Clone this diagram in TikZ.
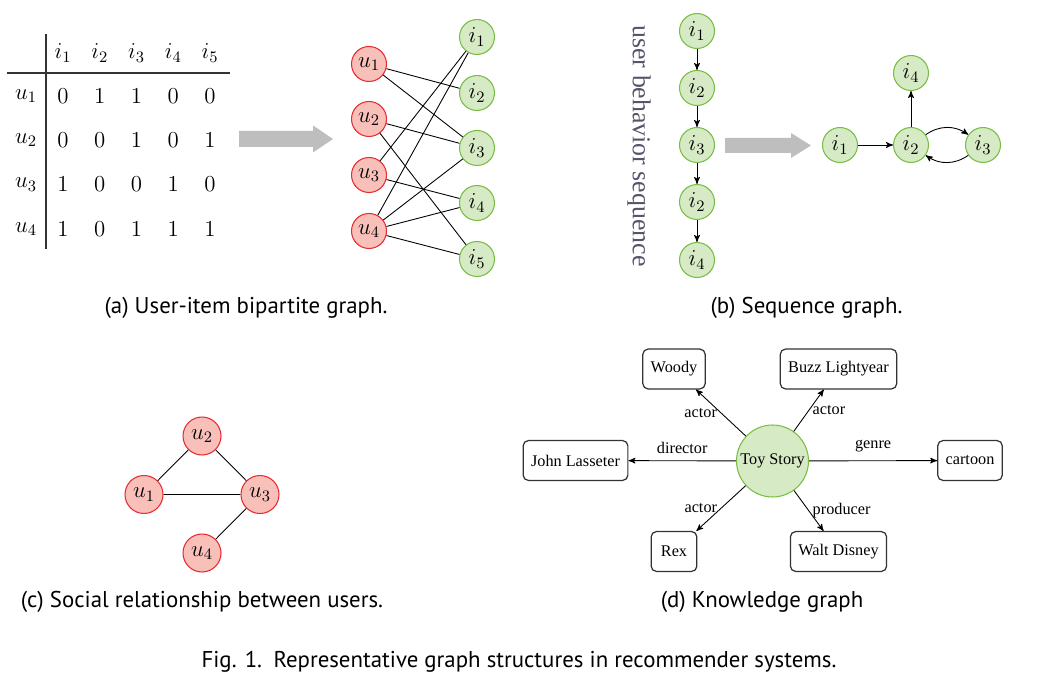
\RequirePackage{fix-cm}
\documentclass[tikz,border=0pt]{standalone}
\usepackage{fontspec}
\newfontfamily\capfont{PT Sans}
\newfontfamily\kgfont{Liberation Serif}
\usetikzlibrary{calc}
\usetikzlibrary{arrows}

\definecolor{userfill}{RGB}{249,192,186}
\definecolor{userdraw}{RGB}{232,42,50}
\definecolor{itemfill}{RGB}{214,234,197}
\definecolor{itemdraw}{RGB}{120,190,68}
\definecolor{seqgray}{RGB}{84,84,106}
\definecolor{bigarrow}{RGB}{190,190,190}

\begin{document}
\begin{tikzpicture} [x=0.02cm, y=-0.02cm, >=stealth',
  user/.style={circle, draw=userdraw, fill=userfill, line width=0.6pt, minimum size=0.7cm, inner sep=0, font=\fontsize{13}{15}\selectfont},
  item/.style={circle, draw=itemdraw, fill=itemfill, line width=0.6pt, minimum size=0.7cm, inner sep=0, font=\fontsize{13}{15}\selectfont},
  entity/.style={draw=black!80, line width=0.7pt, rounded corners=3pt, minimum width=26pt, minimum height=22.7pt, inner xsep=4.5pt, font=\kgfont\fontsize{9.25}{11}\selectfont},
  rel/.style={font=\kgfont\fontsize{9.25}{11}\selectfont, inner sep=2pt},
  tab/.style={font=\fontsize{13}{15}\selectfont, inner sep=0},
  capt/.style={font=\capfont\fontsize{13}{15}\selectfont},
  link/.style={line width=0.5pt},
  arr/.style={->, line width=0.5pt}]
\useasboundingbox (0,0) rectangle (1058,689);

\draw[black!80, line width=0.6pt] (7,73) -- (230,73);
\draw[black!80, line width=0.6pt] (46,34) -- (46,249);
\foreach \c in {1,...,5}
 \node[tab] (h\c) at ({26.25+36.75*\c},53) {$i_\c$};
\foreach \row [count=\r] in {{0,1,1,0,0},{0,0,1,0,1},{1,0,0,1,0},{1,0,1,1,1}} {
 \node[tab] (r\r) at (26,{96+44.3*(\r-1)}) {$u_\r$};
 \foreach \v [count=\c] in \row
  \node[tab] (m\r\c) at ({26.25+36.75*\c},{96+44.3*(\r-1)}) {$\v$};
}

\foreach \x/\y/\l/\w/\h in {239/139/94/8/13.5, 725/145.5/86/7.5/12.5}
 \fill[bigarrow] (\x,\y-\w) -- ++(\l-20,0) -- (\x+\l-20,\y-\h) -- (\x+\l,\y) -- (\x+\l-20,\y+\h) -- (\x+\l-20,\y+\w) -- (\x,\y+\w) -- cycle;

\foreach \y [count=\n] in {64,119,175,231}
 \node[user] (bu\n) at (369,\y) {$u_\n$};
\foreach \y [count=\n] in {37,93,148,203,259}
 \node[item] (bi\n) at (477,\y) {$i_\n$};
\foreach \a/\b in {1/2,1/3,2/3,2/5,3/1,3/4,4/1,4/3,4/4,4/5}
 \draw[link] (bu\a) -- (bi\b);
\node[capt] (capa) at (246,308) {(a) User-item bipartite graph.};

\node[rotate=-90, text=seqgray, font=\kgfont\fontsize{14.7}{16}\selectfont] (seqlabel) at (639,146) {user behavior sequence};
\foreach \y/\k [count=\n] in {31/1,88/2,145/3,202/2,260/4}
 \node[item] (s\n) at (697,\y) {$i_\k$};
\foreach \a/\b in {1/2,2/3,3/4,4/5}
 \draw[arr] (s\a) -- (s\b);
\node[item] (g1) at (840,145) {$i_1$};
\node[item] (g2) at (911,145) {$i_2$};
\node[item] (g3) at (983,145) {$i_3$};
\node[item] (g4) at (911,73) {$i_4$};
\draw[arr] (g1) -- (g2);
\draw[arr] (g2) -- (g4);
\draw[arr] (g2) to[bend left=35] (g3);
\draw[arr] (g3) to[bend left=35] (g2);
\node[capt] (capb) at (806.5,308) {(b) Sequence graph.};

\node[user, minimum size=0.76cm] (c1) at (144,494.5) {$u_1$};
\node[user, minimum size=0.76cm] (c2) at (202,436) {$u_2$};
\node[user, minimum size=0.76cm] (c3) at (260,494.5) {$u_3$};
\node[user, minimum size=0.76cm] (c4) at (202,553) {$u_4$};
\draw[link] (c1) -- (c2) (c2) -- (c3) (c1) -- (c3) (c3) -- (c4);
\node[capt] (capc) at (202,602) {(c) Social relationship between users.};

\node[item, minimum size=1.44cm, font=\kgfont\fontsize{9.25}{11}\selectfont] (toy) at (772.5,461) {Toy Story};
\node[entity] (woody) at (674,369) {Woody};
\node[entity] (buzz) at (838.5,369) {Buzz Lightyear};
\node[entity] (john) at (575.5,460.5) {John Lasseter};
\node[entity] (cartoon) at (970,460.5) {cartoon};
\node[entity] (rex) at (674,551.5) {Rex};
\node[entity] (walt) at (838.5,551.5) {Walt Disney};
\draw[arr] (toy) -- (woody) node[rel, midway, left] {actor};
\draw[arr] (toy) -- (buzz) node[rel, midway, right] {actor};
\draw[arr] (toy) -- (john) node[rel, midway, above, yshift=2pt] {director};
\draw[arr] (toy) -- (cartoon) node[rel, midway, above, yshift=3pt] {genre};
\draw[arr] (toy) -- (rex) node[rel, midway, left] {actor};
\draw[arr] (toy) -- (walt) node[rel, midway, right] {producer};
\node[capt] (capd) at (762,602) {(d) Knowledge graph};

\node[capt] (fig) at (519,662) {Fig. 1.\enspace Representative graph structures in recommender systems.};
\end{tikzpicture}
\end{document}
